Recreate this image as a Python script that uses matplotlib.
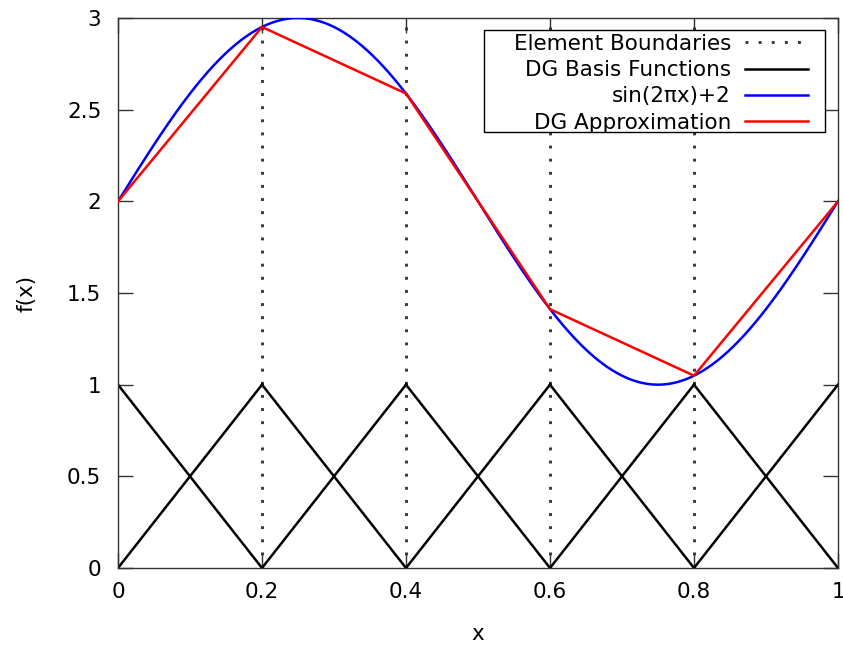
import numpy as np
import matplotlib
matplotlib.use("Agg")
import matplotlib.pyplot as plt
from matplotlib.patches import Rectangle

# Data
nodes = [0.0, 0.2, 0.4, 0.6, 0.8, 1.0]
dg_values = [2.0, 2.951, 2.588, 1.412, 1.049, 2.0]
boundaries = [0.2, 0.4, 0.6, 0.8]
xticks = [0, 0.2, 0.4, 0.6, 0.8, 1]
xticklabels = ["0", "0.2", "0.4", "0.6", "0.8", "1"]
yticks = [0, 0.5, 1, 1.5, 2, 2.5, 3]
yticklabels = ["0", "0.5", "1", "1.5", "2", "2.5", "3"]

plt.rcParams['font.family'] = ['DejaVu Sans']
fs = 15.5
W, H = 843, 646
fig = plt.figure(figsize=(W/100, H/100), dpi=100)
ax = fig.add_axes([118/W, 1-568/H, (838-118)/W, (568-18)/H])

# element boundaries
for i, b in enumerate(boundaries):
    ax.plot([b, b], [0, 3], color='#383838', lw=2.1, linestyle=(0, (1, 3.5)),
            dash_capstyle='butt',
            label='Element Boundaries' if i == 0 else None, zorder=1)

# DG basis functions (linear, per element)
for i in range(len(nodes) - 1):
    x0, x1 = nodes[i], nodes[i+1]
    ax.plot([x0, x1], [1, 0], color='black', lw=1.8,
            label='DG Basis Functions' if i == 0 else None, zorder=2)
    ax.plot([x0, x1], [0, 1], color='black', lw=1.8, zorder=2)

xs = np.linspace(0, 1, 400)
ax.plot(xs, np.sin(2*np.pi*xs) + 2, color='#0000ff', lw=1.8, label='sin(2πx)+2', zorder=3)
ax.plot(nodes, dg_values, color='#ff0000', lw=1.8, label='DG Approximation', zorder=4)

ax.set_xlim(0, 1)
ax.set_ylim(0, 3)
ax.set_xticks(xticks)
ax.set_xticklabels(xticklabels, fontsize=fs)
ax.set_yticks(yticks)
ax.set_yticklabels(yticklabels, fontsize=fs)
ax.tick_params(axis='both', direction='in', length=11, width=1, color='#333333',
               top=True, right=True)
ax.tick_params(axis='x', pad=10)
ax.tick_params(axis='y', pad=12)
for s in ax.spines.values():
    s.set_color('#333333')
    s.set_linewidth(1)

ax.set_xlabel('x', fontsize=fs, labelpad=16)
ax.set_ylabel('f(x)', fontsize=fs, labelpad=22)

# legend frame (gnuplot style box)
ax.add_patch(Rectangle((484/W, 1-132/H), (825-484)/W, (132-30)/H,
                       transform=fig.transFigure, facecolor='white',
                       edgecolor='black', lw=1, zorder=4.9, clip_on=False))
leg = ax.legend(loc='upper right', bbox_to_anchor=(808/W, 1-34/H),
                bbox_transform=fig.transFigure, markerfirst=False, fontsize=fs,
                frameon=False, handlelength=2.93, handletextpad=0.65,
                labelspacing=0.29, borderpad=0, borderaxespad=0)
leg.set_zorder(5)

fig.savefig('out.png', dpi=100)
